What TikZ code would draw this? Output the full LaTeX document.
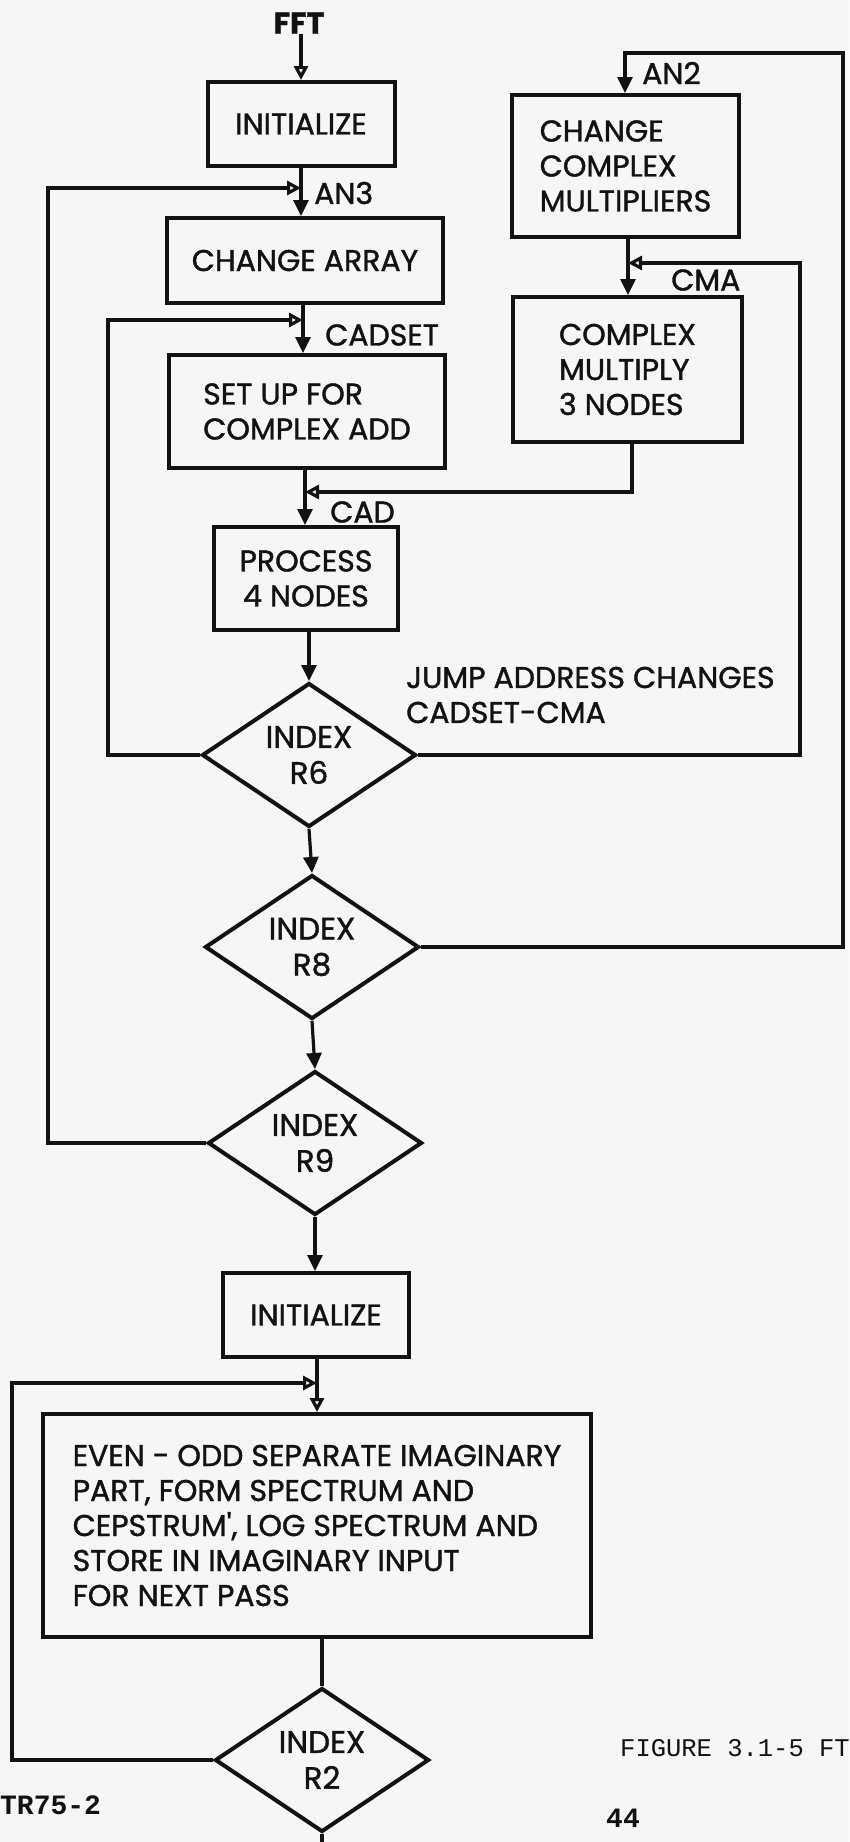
\documentclass[tikz,border=0pt]{standalone}
\usepackage{fontspec}
\setmainfont{Poppins}
\newfontfamily\dgfam{Poppins}[FakeBold=1.3]
\newfontfamily\typefont{Liberation Mono}
\usetikzlibrary{shapes.geometric,arrows.meta}
\definecolor{paper}{RGB}{246,246,243}
\definecolor{ink}{RGB}{18,18,18}
\newcommand\dgfont{\dgfam\fontsize{30}{35}\selectfont}
\newcommand\diafont{\dgfam\fontsize{31}{36}\selectfont}
\begin{document}
\begin{tikzpicture}[x=1pt,y=-1pt,
  box/.style={draw=ink, line width=4pt, inner sep=0pt, align=left, font=\dgfont, text=ink},
  dia/.style={draw=ink, line width=4pt, shape=diamond, inner sep=0pt, align=center, font=\diafont, text=ink, shape aspect=1.5, minimum width=214pt, minimum height=144pt},
  conn/.style={draw=ink, line width=3.2pt},
  fillarrow/.style={conn, -{Triangle[length=16pt,width=15pt]}},
  openarrow/.style={conn, -{Triangle[open,length=14pt,width=14pt]}},
  lbl/.style={font=\dgfont, text=ink, inner sep=0pt, anchor=west},
]
\useasboundingbox (0,0) rectangle (849,1842);
\fill[paper] (0,0) rectangle (849,1842);

% boxes
\node[box, minimum width=187pt, minimum height=84pt] (init1) at (301,124) {INITIALIZE};
\node[box, minimum width=276pt, minimum height=85pt] (carr) at (305,260.5) {CHANGE ARRAY};
\node[box, minimum width=276pt, minimum height=113pt] (setup) at (307,411.5) {SET UP FOR\\COMPLEX ADD};
\node[box, minimum width=184pt, minimum height=103pt, align=center] (proc) at (306,578.5) {PROCESS\\4 NODES};
\node[box, minimum width=227pt, minimum height=142pt] (ccm) at (625.5,166) {CHANGE\\COMPLEX\\MULTIPLIERS};
\node[box, minimum width=229pt, minimum height=145pt] (cmul) at (627.5,369.5) {COMPLEX\\MULTIPLY\\3 NODES};
\node[dia] (r6) at (309,755) {INDEX\\R6};
\node[dia] (r8) at (312,947) {INDEX\\R8};
\node[dia] (r9) at (315,1143) {INDEX\\R9};
\node[box, minimum width=186pt, minimum height=84pt] (init2) at (316,1315) {INITIALIZE};
\node[box, minimum width=548pt, minimum height=223pt] (big) at (317,1525.5) {EVEN - ODD SEPARATE IMAGINARY\\PART, FORM SPECTRUM AND\\CEPSTRUM', LOG SPECTRUM AND\\STORE IN IMAGINARY INPUT\\FOR NEXT PASS};
\node[dia] (r2) at (322,1760) {INDEX\\R2};

% labels
\node[lbl, anchor=center, font=\dgfont\bfseries] (fft) at (299,23) {FFT};
\node[lbl] (an3) at (314,193) {AN3};
\node[lbl] (cadset) at (325,335) {CADSET};
\node[lbl] (cad) at (330,512) {CAD};
\node[lbl] (an2) at (642,73) {AN2};
\node[lbl] (cma) at (671,280) {CMA};
\node[lbl, align=left] (jump) at (406,695) {JUMP ADDRESS CHANGES\\CADSET-CMA};

\node[anchor=west, inner sep=0pt, text=ink, font=\typefont\fontsize{25.5}{25}\selectfont] (figcap) at (620,1748) {FIGURE 3.1-5 FT};
\node[anchor=west, inner sep=0pt, text=ink, font=\typefont\bfseries\fontsize{28}{28}\selectfont] (tr) at (0,1805) {TR75-2};
\node[inner sep=0pt, text=ink, font=\typefont\bfseries\fontsize{28}{28}\selectfont] (pg) at (623,1818) {44};

% junction coordinates
\coordinate (jan3) at (301,188);
\coordinate (jcadset) at (303,320);
\coordinate (jcad) at (305,492);
\coordinate (jcma) at (628,263);
\coordinate (jinit) at (317,1383);
\coordinate (lx1) at (48,0);
\coordinate (lx2) at (108,0);
\coordinate (lx3) at (12,0);
\coordinate (rx1) at (800,0);
\coordinate (rx2) at (843,53);
\coordinate (an2top) at (625,53);
\coordinate (cmx) at (632,0);
\coordinate (bottomend) at (322,1850);

% main spine
\draw[openarrow] (init1.north |- fft.south) -- (init1.north);
\draw[conn] (jan3 |- init1.south) -- (jan3);
\draw[fillarrow] (jan3) -- (jan3 |- carr.north);
\draw[conn] (jcadset |- carr.south) -- (jcadset);
\draw[fillarrow] (jcadset) -- (jcadset |- setup.north);
\draw[conn] (jcad |- setup.south) -- (jcad);
\draw[fillarrow] (jcad) -- (jcad |- proc.north);
\draw[fillarrow] (r6.north |- proc.south) -- (r6.north);
\draw[fillarrow] (r6.south) -- (r8.north);
\draw[fillarrow] (r8.south) -- (r9.north);
\draw[fillarrow] (r9.south) -- (r9.south |- init2.north);
\draw[conn] (jinit |- init2.south) -- (jinit);
\draw[openarrow] (jinit) -- (jinit |- big.north);
\draw[conn] (r2.north |- big.south) -- (r2.north);
\draw[conn] (r2.south) -- (bottomend);

% right column
\draw[conn] (jcma |- ccm.south) -- (jcma);
\draw[fillarrow] (jcma) -- (jcma |- cmul.north);
\draw[openarrow] (cmx |- cmul.south) |- (jcad);

% loops
\draw[openarrow] (r9.west) -| (lx1 |- jan3) -- (jan3);
\draw[openarrow] (r6.west) -| (lx2 |- jcadset) -- (jcadset);
\draw[openarrow] (r6.east) -| (rx1 |- jcma) -- (jcma);
\draw[fillarrow] (r8.east) -| (rx2) -- (an2top) -- (an2top |- ccm.north);
\draw[openarrow] (r2.west) -| (lx3 |- jinit) -- (jinit);
\end{tikzpicture}
\end{document}
